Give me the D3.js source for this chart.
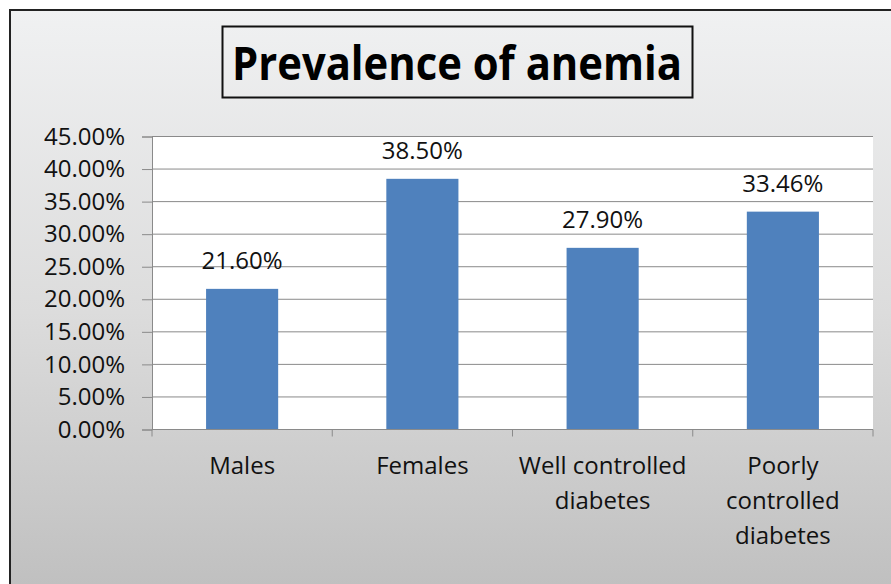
<!DOCTYPE html>
<html>
<head>
<meta charset="utf-8">
<script src="https://cdn.jsdelivr.net/npm/d3@7"></script>
<style>
  html, body { margin: 0; padding: 0; background: #fff; }
  svg { display: block; font-family: 'Open Sans', sans-serif; }
</style>
</head>
<body>
<div id="chart"></div>
<script>
var categories = ['Males', 'Females', 'Well controlled diabetes', 'Poorly controlled diabetes'];
var categoryLines = [['Males'], ['Females'], ['Well controlled', 'diabetes'], ['Poorly', 'controlled', 'diabetes']];
var values = [21.60, 38.50, 27.90, 33.46];
var yTicks = [0, 5, 10, 15, 20, 25, 30, 35, 40, 45];
var title = 'Prevalence of anemia';

var width = 891;
var height = 584;
var plot = { left: 152, right: 873, top: 136.5, bottom: 429.5 };
var labelSize = 24;

var svg = d3.select('#chart').append('svg')
  .attr('width', width)
  .attr('height', height);

var defs = svg.append('defs');
var grad = defs.append('linearGradient')
  .attr('id', 'bg')
  .attr('x1', 0).attr('y1', 0).attr('x2', 0).attr('y2', 1);
grad.append('stop').attr('offset', '0%').attr('stop-color', '#f0f1f2');
grad.append('stop').attr('offset', '50%').attr('stop-color', '#dcdcdc');
grad.append('stop').attr('offset', '100%').attr('stop-color', '#bdbdbd');

// chart frame, runs off the right and bottom edges
svg.append('rect')
  .attr('x', 10).attr('y', 10)
  .attr('width', width + 20).attr('height', height + 20)
  .attr('fill', 'url(#bg)')
  .attr('stroke', '#222')
  .attr('stroke-width', 2);

// title box
svg.append('rect')
  .attr('x', 222.5).attr('y', 26.5)
  .attr('width', 470).attr('height', 71)
  .attr('fill', 'none')
  .attr('stroke', '#111')
  .attr('stroke-width', 2);

svg.append('text')
  .attr('x', 457).attr('y', 80)
  .attr('text-anchor', 'middle')
  .attr('font-size', 46)
  .attr('font-weight', 'bold')
  .attr('textLength', 450)
  .attr('lengthAdjust', 'spacingAndGlyphs')
  .attr('fill', '#000')
  .text(title);

var x = d3.scaleBand()
  .domain(categories)
  .range([plot.left, plot.right])
  .paddingInner(0.6)
  .paddingOuter(0.3);

var y = d3.scaleLinear()
  .domain([0, 45])
  .range([plot.bottom, plot.top]);

// plot area
svg.append('rect')
  .attr('x', plot.left).attr('y', plot.top)
  .attr('width', plot.right - plot.left)
  .attr('height', plot.bottom - plot.top)
  .attr('fill', '#fff');

var yAxis = d3.axisLeft(y)
  .tickValues(yTicks)
  .tickSize(10)
  .tickPadding(17)
  .tickFormat(function (d) { return d.toFixed(2) + '%'; });

var gy = svg.append('g')
  .attr('transform', 'translate(' + plot.left + ',0)')
  .call(yAxis);
gy.select('.domain').attr('stroke', '#8a8a8a');
gy.selectAll('.tick line').attr('stroke', '#8a8a8a');
gy.selectAll('.tick text')
  .attr('font-size', labelSize)
  .attr('font-family', "'Open Sans', sans-serif")
  .attr('fill', '#111');

// gridlines
svg.append('g').selectAll('line')
  .data(yTicks.filter(function (d) { return d > 0; }))
  .enter().append('line')
  .attr('x1', plot.left).attr('x2', plot.right)
  .attr('y1', function (d) { return y(d); })
  .attr('y2', function (d) { return y(d); })
  .attr('stroke', '#8a8a8a')
  .attr('stroke-width', 1);

// bars
svg.append('g').selectAll('rect')
  .data(values)
  .enter().append('rect')
  .attr('x', function (d, i) { return x(categories[i]); })
  .attr('y', function (d) { return y(d); })
  .attr('width', x.bandwidth())
  .attr('height', function (d) { return y(0) - y(d); })
  .attr('fill', '#4f81bd');

// value labels
svg.append('g').selectAll('text')
  .data(values)
  .enter().append('text')
  .attr('x', function (d, i) { return x(categories[i]) + x.bandwidth() / 2; })
  .attr('y', function (d) { return y(d) - 20; })
  .attr('text-anchor', 'middle')
  .attr('font-size', labelSize)
  .attr('fill', '#111')
  .text(function (d) { return d.toFixed(2) + '%'; });

// x axis line and category separators
var step = x.step();
var bounds = d3.range(categories.length + 1).map(function (i) {
  return plot.left + i * step;
});
svg.append('line')
  .attr('x1', plot.left).attr('x2', plot.right)
  .attr('y1', plot.bottom).attr('y2', plot.bottom)
  .attr('stroke', '#8a8a8a');
svg.append('g').selectAll('line')
  .data(bounds)
  .enter().append('line')
  .attr('x1', function (d) { return d; })
  .attr('x2', function (d) { return d; })
  .attr('y1', plot.bottom).attr('y2', plot.bottom + 7)
  .attr('stroke', '#8a8a8a');

// category labels
var cat = svg.append('g').selectAll('text')
  .data(categoryLines)
  .enter().append('text')
  .attr('text-anchor', 'middle')
  .attr('font-size', labelSize)
  .attr('fill', '#111')
  .attr('x', function (d, i) { return x(categories[i]) + x.bandwidth() / 2; })
  .attr('y', 474);

cat.selectAll('tspan')
  .data(function (d, i) { return d.map(function (t) { return { t: t, i: i }; }); })
  .enter().append('tspan')
  .attr('x', function (d) { return x(categories[d.i]) + x.bandwidth() / 2; })
  .attr('dy', function (d, j) { return j === 0 ? 0 : 35; })
  .text(function (d) { return d.t; });
</script>
</body>
</html>
